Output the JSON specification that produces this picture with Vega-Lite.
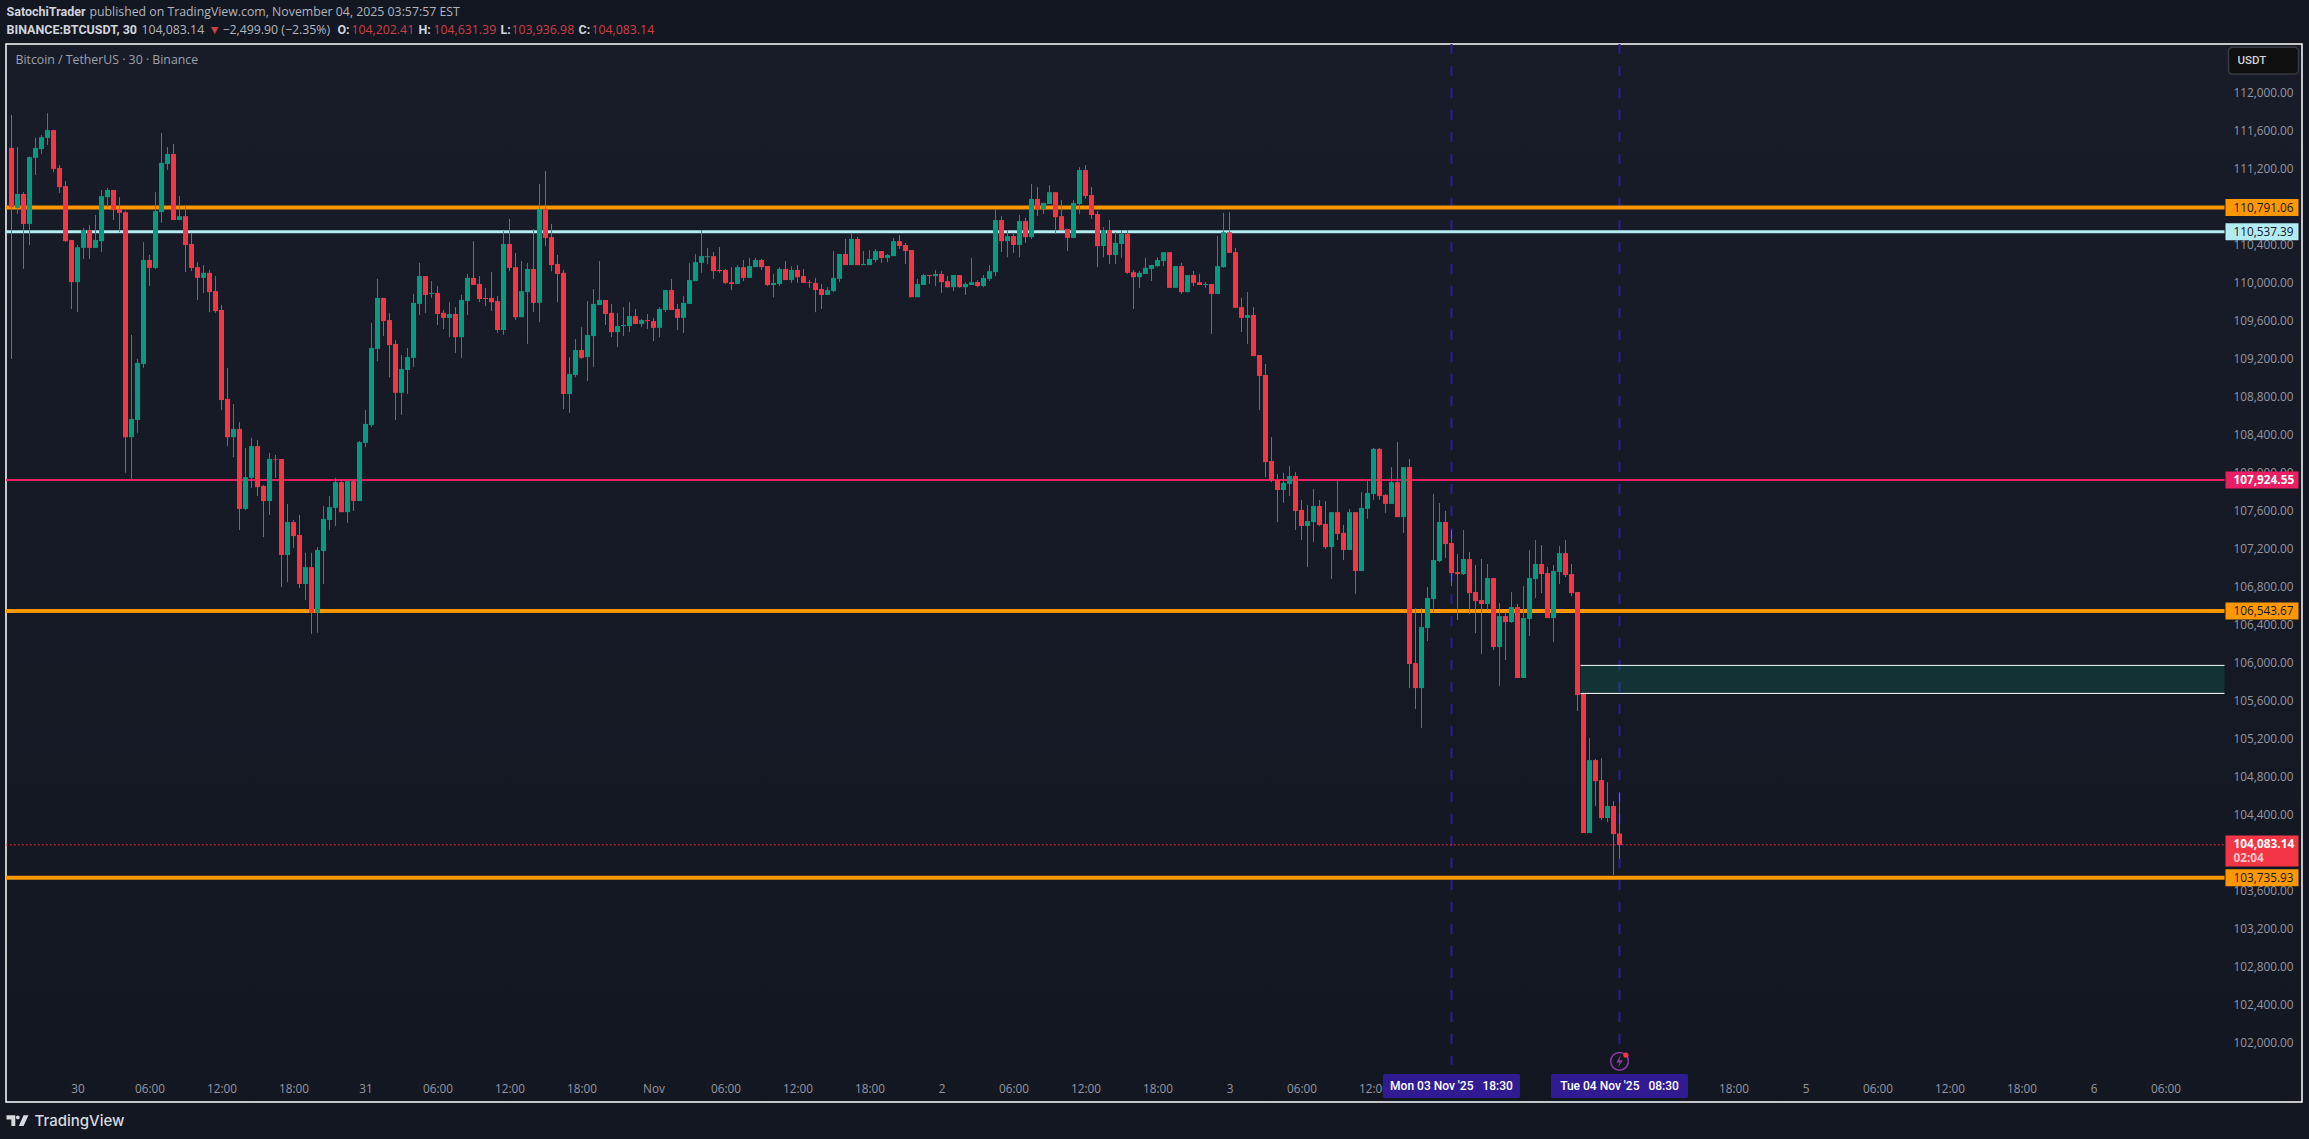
{
"$schema":"https://vega.github.io/schema/vega-lite/v6.json",
"width":2296,"height":1058,
"autosize":"none",
"padding":{"left":6,"top":44,"right":7,"bottom":37},
"background":"#131722",
"view":{"stroke":"#ffffff","strokeWidth":1.5,"fill":{"gradient":"linear","x1":0,"y1":0,"x2":0,"y2":1,"stops":[{"offset":0,"color":"#181c28"},{"offset":1,"color":"#131722"}]}},
"config":{"text":{"font":"Open Sans"},"axis":{"labelFont":"Open Sans"},"scale":{"continuousPadding":0}},
"resolve":{"scale":{"color":"independent"}},
"datasets":{
"candles":[
{"t":"2025-10-29T18:30Z","o":111419,"h":111765,"l":109198,"c":110795},
{"t":"2025-10-29T19:00Z","o":110788,"h":111427,"l":110724,"c":110934},
{"t":"2025-10-29T19:30Z","o":110934,"h":110953,"l":110145,"c":110619},
{"t":"2025-10-29T20:00Z","o":110619,"h":111329,"l":110397,"c":111322},
{"t":"2025-10-29T20:30Z","o":111314,"h":111525,"l":111134,"c":111419},
{"t":"2025-10-29T21:00Z","o":111408,"h":111555,"l":111355,"c":111532},
{"t":"2025-10-29T21:30Z","o":111525,"h":111784,"l":111449,"c":111607},
{"t":"2025-10-29T22:00Z","o":111607,"h":111607,"l":111164,"c":111198},
{"t":"2025-10-29T22:30Z","o":111209,"h":111239,"l":110946,"c":111006},
{"t":"2025-10-29T23:00Z","o":111017,"h":111070,"l":110427,"c":110438},
{"t":"2025-10-29T23:30Z","o":110449,"h":110449,"l":109724,"c":110006},
{"t":"2025-10-30T00:00Z","o":110006,"h":110397,"l":109690,"c":110374},
{"t":"2025-10-30T00:30Z","o":110367,"h":110577,"l":110250,"c":110555},
{"t":"2025-10-30T01:00Z","o":110555,"h":110607,"l":110250,"c":110367},
{"t":"2025-10-30T01:30Z","o":110367,"h":110713,"l":110367,"c":110449},
{"t":"2025-10-30T02:00Z","o":110438,"h":110976,"l":110322,"c":110912},
{"t":"2025-10-30T02:30Z","o":110901,"h":110998,"l":110795,"c":110976},
{"t":"2025-10-30T03:00Z","o":110976,"h":110976,"l":110660,"c":110765},
{"t":"2025-10-30T03:30Z","o":110776,"h":110901,"l":110532,"c":110735},
{"t":"2025-10-30T04:00Z","o":110743,"h":110758,"l":107999,"c":108374},
{"t":"2025-10-30T04:30Z","o":108374,"h":109450,"l":107931,"c":108566},
{"t":"2025-10-30T05:00Z","o":108555,"h":109198,"l":108420,"c":109156},
{"t":"2025-10-30T05:30Z","o":109145,"h":110427,"l":109104,"c":110239},
{"t":"2025-10-30T06:00Z","o":110239,"h":110292,"l":109965,"c":110156},
{"t":"2025-10-30T06:30Z","o":110156,"h":110953,"l":110145,"c":110754},
{"t":"2025-10-30T07:00Z","o":110743,"h":111577,"l":110630,"c":111261},
{"t":"2025-10-30T07:30Z","o":111250,"h":111427,"l":111186,"c":111355},
{"t":"2025-10-30T08:00Z","o":111355,"h":111461,"l":110660,"c":110660},
{"t":"2025-10-30T08:30Z","o":110660,"h":110912,"l":110660,"c":110701},
{"t":"2025-10-30T09:00Z","o":110701,"h":110807,"l":110111,"c":110397},
{"t":"2025-10-30T09:30Z","o":110408,"h":110525,"l":110122,"c":110156},
{"t":"2025-10-30T10:00Z","o":110164,"h":110216,"l":109818,"c":110051},
{"t":"2025-10-30T10:30Z","o":110051,"h":110186,"l":109893,"c":110104},
{"t":"2025-10-30T11:00Z","o":110104,"h":110134,"l":109690,"c":109901},
{"t":"2025-10-30T11:30Z","o":109912,"h":110070,"l":109683,"c":109701},
{"t":"2025-10-30T12:00Z","o":109713,"h":109765,"l":108660,"c":108765},
{"t":"2025-10-30T12:30Z","o":108777,"h":109104,"l":108280,"c":108374},
{"t":"2025-10-30T13:00Z","o":108374,"h":108724,"l":108164,"c":108461},
{"t":"2025-10-30T13:30Z","o":108461,"h":108532,"l":107397,"c":107619},
{"t":"2025-10-30T14:00Z","o":107619,"h":108262,"l":107608,"c":107953},
{"t":"2025-10-30T14:30Z","o":107946,"h":108367,"l":107841,"c":108280},
{"t":"2025-10-30T15:00Z","o":108280,"h":108344,"l":107754,"c":107848},
{"t":"2025-10-30T15:30Z","o":107860,"h":107871,"l":107322,"c":107702},
{"t":"2025-10-30T16:00Z","o":107702,"h":108209,"l":107555,"c":108145},
{"t":"2025-10-30T16:30Z","o":108145,"h":108187,"l":107946,"c":108138},
{"t":"2025-10-30T17:00Z","o":108145,"h":108145,"l":106796,"c":107134},
{"t":"2025-10-30T17:30Z","o":107134,"h":107672,"l":106848,"c":107480},
{"t":"2025-10-30T18:00Z","o":107480,"h":107502,"l":107209,"c":107333},
{"t":"2025-10-30T18:30Z","o":107345,"h":107555,"l":106788,"c":106829},
{"t":"2025-10-30T19:00Z","o":106829,"h":107157,"l":106660,"c":107006},
{"t":"2025-10-30T19:30Z","o":107006,"h":107157,"l":106303,"c":106525},
{"t":"2025-10-30T20:00Z","o":106525,"h":107217,"l":106315,"c":107187},
{"t":"2025-10-30T20:30Z","o":107175,"h":107649,"l":106829,"c":107514},
{"t":"2025-10-30T21:00Z","o":107502,"h":107754,"l":107397,"c":107638},
{"t":"2025-10-30T21:30Z","o":107630,"h":107946,"l":107439,"c":107901},
{"t":"2025-10-30T22:00Z","o":107901,"h":107923,"l":107585,"c":107585},
{"t":"2025-10-30T22:30Z","o":107585,"h":107912,"l":107472,"c":107912},
{"t":"2025-10-30T23:00Z","o":107912,"h":107931,"l":107596,"c":107702},
{"t":"2025-10-30T23:30Z","o":107702,"h":108333,"l":107702,"c":108322},
{"t":"2025-10-31T00:00Z","o":108314,"h":108660,"l":108269,"c":108514},
{"t":"2025-10-31T00:30Z","o":108502,"h":109577,"l":108480,"c":109314},
{"t":"2025-10-31T01:00Z","o":109303,"h":110040,"l":109175,"c":109840},
{"t":"2025-10-31T01:30Z","o":109840,"h":109840,"l":109438,"c":109596},
{"t":"2025-10-31T02:00Z","o":109607,"h":109683,"l":109006,"c":109344},
{"t":"2025-10-31T02:30Z","o":109356,"h":109397,"l":108555,"c":108841},
{"t":"2025-10-31T03:00Z","o":108841,"h":109239,"l":108608,"c":109092},
{"t":"2025-10-31T03:30Z","o":109081,"h":109314,"l":108829,"c":109217},
{"t":"2025-10-31T04:00Z","o":109209,"h":109882,"l":109111,"c":109788},
{"t":"2025-10-31T04:30Z","o":109777,"h":110209,"l":109660,"c":110070},
{"t":"2025-10-31T05:00Z","o":110070,"h":110070,"l":109683,"c":109871},
{"t":"2025-10-31T05:30Z","o":109882,"h":110017,"l":109840,"c":109893},
{"t":"2025-10-31T06:00Z","o":109893,"h":109965,"l":109555,"c":109671},
{"t":"2025-10-31T06:30Z","o":109683,"h":109713,"l":109513,"c":109630},
{"t":"2025-10-31T07:00Z","o":109630,"h":109795,"l":109427,"c":109671},
{"t":"2025-10-31T07:30Z","o":109671,"h":109743,"l":109262,"c":109427},
{"t":"2025-10-31T08:00Z","o":109427,"h":109871,"l":109209,"c":109818},
{"t":"2025-10-31T08:30Z","o":109807,"h":110092,"l":109660,"c":110051},
{"t":"2025-10-31T09:00Z","o":110051,"h":110438,"l":109976,"c":109976},
{"t":"2025-10-31T09:30Z","o":109987,"h":110070,"l":109795,"c":109829},
{"t":"2025-10-31T10:00Z","o":109840,"h":109946,"l":109754,"c":109829},
{"t":"2025-10-31T10:30Z","o":109840,"h":110111,"l":109701,"c":109795},
{"t":"2025-10-31T11:00Z","o":109807,"h":109859,"l":109472,"c":109502},
{"t":"2025-10-31T11:30Z","o":109502,"h":110543,"l":109450,"c":110408},
{"t":"2025-10-31T12:00Z","o":110408,"h":110671,"l":110122,"c":110156},
{"t":"2025-10-31T12:30Z","o":110164,"h":110314,"l":109607,"c":109637},
{"t":"2025-10-31T13:00Z","o":109637,"h":110228,"l":109637,"c":109912},
{"t":"2025-10-31T13:30Z","o":109901,"h":110209,"l":109356,"c":110145},
{"t":"2025-10-31T14:00Z","o":110145,"h":110566,"l":109690,"c":109788},
{"t":"2025-10-31T14:30Z","o":109788,"h":111040,"l":109585,"c":110776},
{"t":"2025-10-31T15:00Z","o":110776,"h":111175,"l":110386,"c":110472},
{"t":"2025-10-31T15:30Z","o":110480,"h":110619,"l":110122,"c":110186},
{"t":"2025-10-31T16:00Z","o":110198,"h":110292,"l":109795,"c":110092},
{"t":"2025-10-31T16:30Z","o":110104,"h":110134,"l":108671,"c":108829},
{"t":"2025-10-31T17:00Z","o":108829,"h":109217,"l":108630,"c":109040},
{"t":"2025-10-31T17:30Z","o":109029,"h":109408,"l":109006,"c":109292},
{"t":"2025-10-31T18:00Z","o":109292,"h":109532,"l":109198,"c":109209},
{"t":"2025-10-31T18:30Z","o":109217,"h":109807,"l":108965,"c":109450},
{"t":"2025-10-31T19:00Z","o":109438,"h":109934,"l":109111,"c":109777},
{"t":"2025-10-31T19:30Z","o":109765,"h":110228,"l":109765,"c":109818},
{"t":"2025-10-31T20:00Z","o":109818,"h":109818,"l":109555,"c":109671},
{"t":"2025-10-31T20:30Z","o":109683,"h":109777,"l":109427,"c":109480},
{"t":"2025-10-31T21:00Z","o":109480,"h":109683,"l":109322,"c":109544},
{"t":"2025-10-31T21:30Z","o":109544,"h":109743,"l":109438,"c":109555},
{"t":"2025-10-31T22:00Z","o":109544,"h":109795,"l":109480,"c":109649},
{"t":"2025-10-31T22:30Z","o":109649,"h":109724,"l":109566,"c":109566},
{"t":"2025-10-31T23:00Z","o":109566,"h":109619,"l":109532,"c":109607},
{"t":"2025-10-31T23:30Z","o":109607,"h":109671,"l":109513,"c":109596},
{"t":"2025-11-01T00:00Z","o":109596,"h":109630,"l":109386,"c":109525},
{"t":"2025-11-01T00:30Z","o":109525,"h":109743,"l":109427,"c":109724},
{"t":"2025-11-01T01:00Z","o":109713,"h":109923,"l":109690,"c":109923},
{"t":"2025-11-01T01:30Z","o":109923,"h":110040,"l":109713,"c":109713},
{"t":"2025-11-01T02:00Z","o":109724,"h":109777,"l":109502,"c":109630},
{"t":"2025-11-01T02:30Z","o":109630,"h":109859,"l":109472,"c":109788},
{"t":"2025-11-01T03:00Z","o":109777,"h":110209,"l":109777,"c":110028},
{"t":"2025-11-01T03:30Z","o":110017,"h":110303,"l":110017,"c":110216},
{"t":"2025-11-01T04:00Z","o":110209,"h":110555,"l":110104,"c":110280},
{"t":"2025-11-01T04:30Z","o":110269,"h":110367,"l":110198,"c":110280},
{"t":"2025-11-01T05:00Z","o":110280,"h":110322,"l":110040,"c":110122},
{"t":"2025-11-01T05:30Z","o":110134,"h":110374,"l":110104,"c":110122},
{"t":"2025-11-01T06:00Z","o":110134,"h":110145,"l":109987,"c":109998},
{"t":"2025-11-01T06:30Z","o":110006,"h":110164,"l":109923,"c":109987},
{"t":"2025-11-01T07:00Z","o":109987,"h":110186,"l":109987,"c":110164},
{"t":"2025-11-01T07:30Z","o":110164,"h":110239,"l":110017,"c":110051},
{"t":"2025-11-01T08:00Z","o":110051,"h":110261,"l":110051,"c":110175},
{"t":"2025-11-01T08:30Z","o":110164,"h":110261,"l":110164,"c":110239},
{"t":"2025-11-01T09:00Z","o":110239,"h":110250,"l":110134,"c":110164},
{"t":"2025-11-01T09:30Z","o":110175,"h":110175,"l":109965,"c":109976},
{"t":"2025-11-01T10:00Z","o":109976,"h":110092,"l":109848,"c":109998},
{"t":"2025-11-01T10:30Z","o":109987,"h":110164,"l":109965,"c":110145},
{"t":"2025-11-01T11:00Z","o":110145,"h":110228,"l":110028,"c":110028},
{"t":"2025-11-01T11:30Z","o":110028,"h":110175,"l":109998,"c":110134},
{"t":"2025-11-01T12:00Z","o":110134,"h":110186,"l":109998,"c":110058},
{"t":"2025-11-01T12:30Z","o":110070,"h":110145,"l":109998,"c":109998},
{"t":"2025-11-01T13:00Z","o":110006,"h":110028,"l":109946,"c":109998},
{"t":"2025-11-01T13:30Z","o":109998,"h":110051,"l":109690,"c":109923},
{"t":"2025-11-01T14:00Z","o":109934,"h":109987,"l":109724,"c":109871},
{"t":"2025-11-01T14:30Z","o":109871,"h":109953,"l":109871,"c":109923},
{"t":"2025-11-01T15:00Z","o":109912,"h":110333,"l":109901,"c":110051},
{"t":"2025-11-01T15:30Z","o":110040,"h":110303,"l":110006,"c":110303},
{"t":"2025-11-01T16:00Z","o":110303,"h":110461,"l":110186,"c":110186},
{"t":"2025-11-01T16:30Z","o":110186,"h":110525,"l":110186,"c":110461},
{"t":"2025-11-01T17:00Z","o":110461,"h":110480,"l":110186,"c":110186},
{"t":"2025-11-01T17:30Z","o":110186,"h":110333,"l":110186,"c":110198},
{"t":"2025-11-01T18:00Z","o":110186,"h":110344,"l":110186,"c":110250},
{"t":"2025-11-01T18:30Z","o":110239,"h":110355,"l":110216,"c":110333},
{"t":"2025-11-01T19:00Z","o":110333,"h":110333,"l":110209,"c":110261},
{"t":"2025-11-01T19:30Z","o":110261,"h":110303,"l":110216,"c":110292},
{"t":"2025-11-01T20:00Z","o":110280,"h":110472,"l":110280,"c":110438},
{"t":"2025-11-01T20:30Z","o":110438,"h":110502,"l":110355,"c":110386},
{"t":"2025-11-01T21:00Z","o":110397,"h":110419,"l":110198,"c":110333},
{"t":"2025-11-01T21:30Z","o":110344,"h":110344,"l":109848,"c":109848},
{"t":"2025-11-01T22:00Z","o":109848,"h":110040,"l":109848,"c":109987},
{"t":"2025-11-01T22:30Z","o":109976,"h":110092,"l":109976,"c":110081},
{"t":"2025-11-01T23:00Z","o":110081,"h":110081,"l":109987,"c":110070},
{"t":"2025-11-01T23:30Z","o":110070,"h":110134,"l":109965,"c":110092},
{"t":"2025-11-02T00:00Z","o":110092,"h":110122,"l":109893,"c":110006},
{"t":"2025-11-02T00:30Z","o":110017,"h":110070,"l":109946,"c":109953},
{"t":"2025-11-02T01:00Z","o":109953,"h":110081,"l":109912,"c":110081},
{"t":"2025-11-02T01:30Z","o":110081,"h":110081,"l":109946,"c":109953},
{"t":"2025-11-02T02:00Z","o":109953,"h":110006,"l":109871,"c":109987},
{"t":"2025-11-02T02:30Z","o":109976,"h":110261,"l":109976,"c":110006},
{"t":"2025-11-02T03:00Z","o":110006,"h":110028,"l":109953,"c":109965},
{"t":"2025-11-02T03:30Z","o":109965,"h":110081,"l":109953,"c":110051},
{"t":"2025-11-02T04:00Z","o":110040,"h":110186,"l":110017,"c":110122},
{"t":"2025-11-02T04:30Z","o":110111,"h":110776,"l":110070,"c":110660},
{"t":"2025-11-02T05:00Z","o":110660,"h":110701,"l":110322,"c":110438},
{"t":"2025-11-02T05:30Z","o":110438,"h":110555,"l":110269,"c":110491},
{"t":"2025-11-02T06:00Z","o":110491,"h":110513,"l":110314,"c":110397},
{"t":"2025-11-02T06:30Z","o":110397,"h":110713,"l":110269,"c":110649},
{"t":"2025-11-02T07:00Z","o":110649,"h":110683,"l":110419,"c":110480},
{"t":"2025-11-02T07:30Z","o":110480,"h":111040,"l":110461,"c":110882},
{"t":"2025-11-02T08:00Z","o":110882,"h":111006,"l":110701,"c":110776},
{"t":"2025-11-02T08:30Z","o":110776,"h":110840,"l":110724,"c":110840},
{"t":"2025-11-02T09:00Z","o":110829,"h":111028,"l":110829,"c":110953},
{"t":"2025-11-02T09:30Z","o":110953,"h":110953,"l":110513,"c":110690},
{"t":"2025-11-02T10:00Z","o":110701,"h":110870,"l":110555,"c":110555},
{"t":"2025-11-02T10:30Z","o":110566,"h":110566,"l":110333,"c":110472},
{"t":"2025-11-02T11:00Z","o":110472,"h":110870,"l":110472,"c":110840},
{"t":"2025-11-02T11:30Z","o":110829,"h":111216,"l":110724,"c":111186},
{"t":"2025-11-02T12:00Z","o":111186,"h":111239,"l":110882,"c":110912},
{"t":"2025-11-02T12:30Z","o":110923,"h":111006,"l":110671,"c":110713},
{"t":"2025-11-02T13:00Z","o":110724,"h":110754,"l":110164,"c":110386},
{"t":"2025-11-02T13:30Z","o":110386,"h":110585,"l":110269,"c":110555},
{"t":"2025-11-02T14:00Z","o":110555,"h":110660,"l":110198,"c":110292},
{"t":"2025-11-02T14:30Z","o":110292,"h":110532,"l":110198,"c":110420},
{"t":"2025-11-02T15:00Z","o":110408,"h":110555,"l":110262,"c":110514},
{"t":"2025-11-02T15:30Z","o":110514,"h":110555,"l":110093,"c":110104},
{"t":"2025-11-02T16:00Z","o":110111,"h":110134,"l":109724,"c":110059},
{"t":"2025-11-02T16:30Z","o":110059,"h":110123,"l":109946,"c":110104},
{"t":"2025-11-02T17:00Z","o":110093,"h":110262,"l":110093,"c":110157},
{"t":"2025-11-02T17:30Z","o":110145,"h":110187,"l":110017,"c":110187},
{"t":"2025-11-02T18:00Z","o":110175,"h":110269,"l":110164,"c":110239},
{"t":"2025-11-02T18:30Z","o":110228,"h":110322,"l":110175,"c":110322},
{"t":"2025-11-02T19:00Z","o":110322,"h":110322,"l":109946,"c":109946},
{"t":"2025-11-02T19:30Z","o":109946,"h":110175,"l":109946,"c":110175},
{"t":"2025-11-02T20:00Z","o":110175,"h":110209,"l":109882,"c":109901},
{"t":"2025-11-02T20:30Z","o":109901,"h":110081,"l":109901,"c":110081},
{"t":"2025-11-02T21:00Z","o":110081,"h":110123,"l":109965,"c":109999},
{"t":"2025-11-02T21:30Z","o":110006,"h":110093,"l":109976,"c":109976},
{"t":"2025-11-02T22:00Z","o":109976,"h":110006,"l":109946,"c":109987},
{"t":"2025-11-02T22:30Z","o":109987,"h":109987,"l":109461,"c":109882},
{"t":"2025-11-02T23:00Z","o":109882,"h":110491,"l":109882,"c":110175},
{"t":"2025-11-02T23:30Z","o":110164,"h":110735,"l":110157,"c":110532},
{"t":"2025-11-03T00:00Z","o":110532,"h":110743,"l":110314,"c":110314},
{"t":"2025-11-03T00:30Z","o":110322,"h":110367,"l":109735,"c":109735},
{"t":"2025-11-03T01:00Z","o":109743,"h":109841,"l":109480,"c":109630},
{"t":"2025-11-03T01:30Z","o":109630,"h":109901,"l":109356,"c":109660},
{"t":"2025-11-03T02:00Z","o":109660,"h":109743,"l":109228,"c":109228},
{"t":"2025-11-03T02:30Z","o":109239,"h":109239,"l":108660,"c":109018},
{"t":"2025-11-03T03:00Z","o":109029,"h":109145,"l":107954,"c":108112},
{"t":"2025-11-03T03:30Z","o":108123,"h":108375,"l":107901,"c":107924},
{"t":"2025-11-03T04:00Z","o":107924,"h":107988,"l":107480,"c":107818},
{"t":"2025-11-03T04:30Z","o":107818,"h":107999,"l":107683,"c":107894},
{"t":"2025-11-03T05:00Z","o":107882,"h":108070,"l":107754,"c":107965},
{"t":"2025-11-03T05:30Z","o":107965,"h":108006,"l":107397,"c":107597},
{"t":"2025-11-03T06:00Z","o":107608,"h":107713,"l":107292,"c":107439},
{"t":"2025-11-03T06:30Z","o":107439,"h":107661,"l":107006,"c":107491},
{"t":"2025-11-03T07:00Z","o":107480,"h":107830,"l":107270,"c":107649},
{"t":"2025-11-03T07:30Z","o":107649,"h":107713,"l":107439,"c":107450},
{"t":"2025-11-03T08:00Z","o":107461,"h":107702,"l":107198,"c":107217},
{"t":"2025-11-03T08:30Z","o":107217,"h":107585,"l":106882,"c":107585},
{"t":"2025-11-03T09:00Z","o":107585,"h":107924,"l":107292,"c":107356},
{"t":"2025-11-03T09:30Z","o":107367,"h":107450,"l":107082,"c":107187},
{"t":"2025-11-03T10:00Z","o":107187,"h":107619,"l":107187,"c":107585},
{"t":"2025-11-03T10:30Z","o":107585,"h":107585,"l":106725,"c":106965},
{"t":"2025-11-03T11:00Z","o":106965,"h":107796,"l":106965,"c":107630},
{"t":"2025-11-03T11:30Z","o":107619,"h":107912,"l":107514,"c":107788},
{"t":"2025-11-03T12:00Z","o":107777,"h":108262,"l":107713,"c":108251},
{"t":"2025-11-03T12:30Z","o":108251,"h":108262,"l":107713,"c":107754},
{"t":"2025-11-03T13:00Z","o":107766,"h":107777,"l":107578,"c":107672},
{"t":"2025-11-03T13:30Z","o":107672,"h":108059,"l":107672,"c":107901},
{"t":"2025-11-03T14:00Z","o":107901,"h":108322,"l":107533,"c":107533},
{"t":"2025-11-03T14:30Z","o":107533,"h":108059,"l":107367,"c":108059},
{"t":"2025-11-03T15:00Z","o":108060,"h":108144,"l":105733,"c":105986},
{"t":"2025-11-03T15:30Z","o":105996,"h":106572,"l":105512,"c":105733},
{"t":"2025-11-03T16:00Z","o":105733,"h":106575,"l":105312,"c":106375},
{"t":"2025-11-03T16:30Z","o":106365,"h":106797,"l":106228,"c":106681},
{"t":"2025-11-03T17:00Z","o":106670,"h":107776,"l":106533,"c":107081},
{"t":"2025-11-03T17:30Z","o":107070,"h":107681,"l":107060,"c":107481},
{"t":"2025-11-03T18:00Z","o":107481,"h":107597,"l":107102,"c":107249},
{"t":"2025-11-03T18:30Z","o":107260,"h":107397,"l":106807,"c":106944},
{"t":"2025-11-03T19:00Z","o":106954,"h":107144,"l":106449,"c":106933},
{"t":"2025-11-03T19:30Z","o":106933,"h":107397,"l":106923,"c":107091},
{"t":"2025-11-03T20:00Z","o":107091,"h":107165,"l":106512,"c":106733},
{"t":"2025-11-03T20:30Z","o":106744,"h":107028,"l":106312,"c":106649},
{"t":"2025-11-03T21:00Z","o":106660,"h":107091,"l":106091,"c":106618},
{"t":"2025-11-03T21:30Z","o":106618,"h":107039,"l":106554,"c":106891},
{"t":"2025-11-03T22:00Z","o":106891,"h":106891,"l":106133,"c":106165},
{"t":"2025-11-03T22:30Z","o":106165,"h":106628,"l":105754,"c":106491},
{"t":"2025-11-03T23:00Z","o":106491,"h":106533,"l":106028,"c":106428},
{"t":"2025-11-03T23:30Z","o":106428,"h":106744,"l":106418,"c":106586},
{"t":"2025-11-04T00:00Z","o":106586,"h":106618,"l":105839,"c":105839},
{"t":"2025-11-04T00:30Z","o":105839,"h":106807,"l":105839,"c":106470},
{"t":"2025-11-04T01:00Z","o":106460,"h":107186,"l":106281,"c":106891},
{"t":"2025-11-04T01:30Z","o":106881,"h":107291,"l":106681,"c":107039},
{"t":"2025-11-04T02:00Z","o":107039,"h":107239,"l":106733,"c":106933},
{"t":"2025-11-04T02:30Z","o":106944,"h":107007,"l":106470,"c":106470},
{"t":"2025-11-04T03:00Z","o":106470,"h":107028,"l":106218,"c":106965},
{"t":"2025-11-04T03:30Z","o":106954,"h":107228,"l":106828,"c":107154},
{"t":"2025-11-04T04:00Z","o":107154,"h":107291,"l":106902,"c":106923},
{"t":"2025-11-04T04:30Z","o":106933,"h":107039,"l":106702,"c":106733},
{"t":"2025-11-04T05:00Z","o":106744,"h":106744,"l":105491,"c":105660},
{"t":"2025-11-04T05:30Z","o":105670,"h":105670,"l":104207,"c":104207},
{"t":"2025-11-04T06:00Z","o":104207,"h":105207,"l":104207,"c":104975},
{"t":"2025-11-04T06:30Z","o":104975,"h":104986,"l":104491,"c":104754},
{"t":"2025-11-04T07:00Z","o":104765,"h":104996,"l":104344,"c":104365},
{"t":"2025-11-04T07:30Z","o":104365,"h":104744,"l":104323,"c":104491},
{"t":"2025-11-04T08:00Z","o":104491,"h":104544,"l":103765,"c":104196},
{"t":"2025-11-04T08:30Z","o":104202.41,"h":104631.39,"l":103936.98,"c":104083.14}
],
"tags":[
{"t":"2025-11-06T11:00Z","end":"2025-11-06T17:05Z","price":110791.06,"label":"110,791.06","kind":"resistance"},
{"t":"2025-11-06T11:00Z","end":"2025-11-06T17:05Z","price":110537.39,"label":"110,537.39","kind":"mint"},
{"t":"2025-11-06T11:00Z","end":"2025-11-06T17:05Z","price":107924.55,"label":"107,924.55","kind":"pink"},
{"t":"2025-11-06T11:00Z","end":"2025-11-06T17:05Z","price":106543.67,"label":"106,543.67","kind":"resistance"},
{"t":"2025-11-06T11:00Z","end":"2025-11-06T17:05Z","price":103735.93,"label":"103,735.93","kind":"resistance"}
],
"cursors":[
{"t":"2025-11-03T18:30Z","label":"Mon 03 Nov '25\u00a0\u00a0\u00a018:30","price":101544},
{"t":"2025-11-04T08:30Z","label":"Tue 04 Nov '25\u00a0\u00a0\u00a008:30","price":101544}
]
},
"encoding":{
"x":{"field":"t","type":"temporal","title":null,
"scale":{"type":"utc","padding":0,"domain":[{"year":2025,"month":10,"date":29,"hours":18,"minutes":2,"seconds":30,"utc":true},{"year":2025,"month":11,"date":6,"hours":17,"minutes":22,"seconds":30,"utc":true}]},
"axis":{"orient":"bottom","offset":-14,"domain":false,"ticks":false,"grid":false,"labelPadding":0,"labelBaseline":"middle","labelAlign":"center","labelColor":"#9598a1","labelFontSize":11.8,"labelOverlap":false,"labelBound":false,"labelFlush":false,
"values":[
{"year":2025,"month":10,"date":30,"hours":0,"utc":true},{"year":2025,"month":10,"date":30,"hours":6,"utc":true},{"year":2025,"month":10,"date":30,"hours":12,"utc":true},{"year":2025,"month":10,"date":30,"hours":18,"utc":true},
{"year":2025,"month":10,"date":31,"hours":0,"utc":true},{"year":2025,"month":10,"date":31,"hours":6,"utc":true},{"year":2025,"month":10,"date":31,"hours":12,"utc":true},{"year":2025,"month":10,"date":31,"hours":18,"utc":true},
{"year":2025,"month":11,"date":1,"hours":0,"utc":true},{"year":2025,"month":11,"date":1,"hours":6,"utc":true},{"year":2025,"month":11,"date":1,"hours":12,"utc":true},{"year":2025,"month":11,"date":1,"hours":18,"utc":true},
{"year":2025,"month":11,"date":2,"hours":0,"utc":true},{"year":2025,"month":11,"date":2,"hours":6,"utc":true},{"year":2025,"month":11,"date":2,"hours":12,"utc":true},{"year":2025,"month":11,"date":2,"hours":18,"utc":true},
{"year":2025,"month":11,"date":3,"hours":0,"utc":true},{"year":2025,"month":11,"date":3,"hours":6,"utc":true},{"year":2025,"month":11,"date":3,"hours":12,"utc":true},
{"year":2025,"month":11,"date":4,"hours":18,"utc":true},
{"year":2025,"month":11,"date":5,"hours":0,"utc":true},{"year":2025,"month":11,"date":5,"hours":6,"utc":true},{"year":2025,"month":11,"date":5,"hours":12,"utc":true},{"year":2025,"month":11,"date":5,"hours":18,"utc":true},
{"year":2025,"month":11,"date":6,"hours":0,"utc":true},{"year":2025,"month":11,"date":6,"hours":6,"utc":true}],
"labelExpr":"utchours(datum.value)>0?utcFormat(datum.value,'%H:%M'):utcdate(datum.value)==1?'Nov':''+utcdate(datum.value)"}},
"y":{"field":"price","type":"quantitative","title":null,
"scale":{"domain":[101376,112513],"nice":false,"zero":false},
"axis":{"orient":"right","offset":-69,"domain":false,"ticks":false,"grid":false,"labelPadding":0,"labelAlign":"left","labelBaseline":"middle","labelColor":"#9598a1","labelFontSize":11.8,"labelOverlap":false,"labelBound":false,"format":",.2f",
"values":[102000,102400,102800,103200,103600,104000,104400,104800,105200,105600,106000,106400,106800,107200,107600,108000,108400,108800,109200,109600,110000,110400,110800,111200,111600,112000]}}
},
"layer":[
{"data":{"values":[
{"t":"2025-11-03T18:30Z","top":112513,"bottom":101765},
{"t":"2025-11-04T08:30Z","top":112513,"bottom":101765}]},
"mark":{"type":"rule","color":"#311b92","strokeWidth":2,"strokeDash":[10,12]},
"encoding":{"y":{"field":"top","type":"quantitative","title":null,"scale":{"domain":[101376,112513],"nice":false,"zero":false}},"y2":{"field":"bottom"}}},
{"data":{"values":[{"t":"2025-11-04T05:15Z","end":"2025-11-06T10:55Z","top":105972,"bottom":105677}],"format":{"parse":{"end":"date"}}},
"mark":{"type":"rect","color":"#089981","opacity":0.2},
"encoding":{"x2":{"field":"end"},"y":{"field":"top","type":"quantitative","title":null,"scale":{"domain":[101376,112513],"nice":false,"zero":false}},"y2":{"field":"bottom"}}},
{"data":{"values":[
{"t":"2025-11-04T05:15Z","end":"2025-11-06T10:55Z","price":105972},
{"t":"2025-11-04T05:15Z","end":"2025-11-06T10:55Z","price":105677}],"format":{"parse":{"end":"date"}}},
"mark":{"type":"rule","color":"#ffffff","strokeWidth":1},
"encoding":{"x2":{"field":"end"}}},
{"data":{"values":[{"t":"2025-10-29T18:02:30Z","end":"2025-11-06T10:55Z","price":104083.14}],"format":{"parse":{"end":"date"}}},
"mark":{"type":"rule","color":"#f23645","strokeWidth":1,"strokeDash":[1.5,2.5]},
"encoding":{"x2":{"field":"end"}}},
{"data":{"values":[
{"t":"2025-10-29T18:02:30Z","end":"2025-11-06T10:55Z","price":110791.06,"kind":"resistance"},
{"t":"2025-10-29T18:02:30Z","end":"2025-11-06T10:55Z","price":110537.39,"kind":"mint"},
{"t":"2025-10-29T18:02:30Z","end":"2025-11-06T10:55Z","price":107924.55,"kind":"pink"},
{"t":"2025-10-29T18:02:30Z","end":"2025-11-06T10:55Z","price":106543.67,"kind":"resistance"},
{"t":"2025-10-29T18:02:30Z","end":"2025-11-06T10:55Z","price":103735.93,"kind":"resistance"}],"format":{"parse":{"end":"date"}}},
"mark":{"type":"rule"},
"encoding":{"x2":{"field":"end"},
"color":{"field":"kind","type":"nominal","legend":null,"scale":{"domain":["resistance","mint","pink"],"range":["#ff9800","#b2ebf2","#e91e63"]}},
"strokeWidth":{"field":"kind","type":"nominal","legend":null,"scale":{"domain":["resistance","mint","pink"],"range":[4,2,2]}}}},
{"data":{"name":"candles"},
"mark":{"type":"rule","strokeWidth":1},
"encoding":{"y":{"field":"h","type":"quantitative","title":null,"scale":{"domain":[101376,112513],"nice":false,"zero":false}},"y2":{"field":"l"},
"color":{"condition":{"test":"datum.c>=datum.o","value":"#089981"},"value":"#f23645"}}},
{"data":{"name":"candles"},
"mark":{"type":"bar","size":5},
"encoding":{"y":{"field":"o","type":"quantitative","title":null,"scale":{"domain":[101376,112513],"nice":false,"zero":false}},"y2":{"field":"c"},
"color":{"condition":{"test":"datum.c>=datum.o","value":"#089981"},"value":"#f23645"}}},
{"data":{"name":"tags","format":{"parse":{"end":"date"}}},
"mark":{"type":"bar","orient":"horizontal","size":17},
"encoding":{"x2":{"field":"end"},
"color":{"field":"kind","type":"nominal","legend":null,"scale":{"domain":["resistance","mint","pink"],"range":["#ff9800","#b2ebf2","#e91e63"]}}}},
{"data":{"values":[{"t":"2025-11-06T11:00Z","end":"2025-11-06T17:05Z","price":104018}],"format":{"parse":{"end":"date"}}},
"mark":{"type":"bar","orient":"horizontal","size":31,"color":"#f23645"},
"encoding":{"x2":{"field":"end"}}},
{"data":{"name":"tags"},"transform":[{"filter":"datum.kind!='pink'"}],
"mark":{"type":"text","fontSize":11.8,"align":"left","baseline":"middle","dx":8,"color":"#131722"},
"encoding":{"text":{"field":"label"}}},
{"data":{"name":"tags"},"transform":[{"filter":"datum.kind=='pink'"}],
"mark":{"type":"text","fontSize":11.8,"fontWeight":"bold","align":"left","baseline":"middle","dx":8,"color":"#ffffff"},
"encoding":{"text":{"field":"label"}}},
{"data":{"values":[{"t":"2025-11-06T11:00Z","price":104090,"label":"104,083.14"}]},
"mark":{"type":"text","fontSize":11.8,"fontWeight":"bold","align":"left","baseline":"middle","dx":8,"color":"#ffffff"},
"encoding":{"text":{"field":"label"}}},
{"data":{"values":[{"t":"2025-11-06T11:00Z","price":103944,"label":"02:04"}]},
"mark":{"type":"text","fontSize":11.8,"fontWeight":"bold","align":"left","baseline":"middle","dx":8,"color":"#fbc4c8"},
"encoding":{"text":{"field":"label"}}},
{"data":{"values":[{"t":"2025-11-06T11:15Z","end":"2025-11-06T17:05Z","top":112478,"bottom":112197}],"format":{"parse":{"end":"date"}}},
"mark":{"type":"rect","fill":"#0f0f0f","stroke":"#363a45","strokeWidth":1.5,"cornerRadius":4},
"encoding":{"x2":{"field":"end"},"y":{"field":"top","type":"quantitative","title":null,"scale":{"domain":[101376,112513],"nice":false,"zero":false}},"y2":{"field":"bottom"}}},
{"data":{"values":[{"t":"2025-11-06T12:00Z","price":112337,"label":"USDT"}]},
"mark":{"type":"text","font":"Roboto","fontSize":11.5,"fontWeight":500,"align":"left","baseline":"middle","color":"#d1d4dc"},
"encoding":{"text":{"field":"label"}}},
{"data":{"name":"cursors"},
"mark":{"type":"rect","width":137,"height":24,"color":"#311b92","cornerRadius":2},"encoding":{}},
{"data":{"name":"cursors"},
"mark":{"type":"text","font":"Roboto","fontSize":12,"fontWeight":500,"align":"center","baseline":"middle","color":"#ffffff"},
"encoding":{"text":{"field":"label"}}},
{"data":{"values":[{"t":"2025-11-04T08:30Z","price":101804}]},
"mark":{"type":"point","shape":"circle","size":314,"filled":true,"fill":"#131722","stroke":"#8e3aa6","strokeWidth":1.5,"opacity":1},"encoding":{}},
{"data":{"values":[{"t":"2025-11-04T08:30Z","price":101804}]},
"mark":{"type":"point","shape":"M0.15,-0.75 L-0.4,0.15 H0 L-0.15,0.75 L0.4,-0.15 H0 Z","size":256,"filled":true,"color":"#8e3aa6","opacity":1},"encoding":{}},
{"data":{"values":[{"t":"2025-11-04T09:02Z","price":101870}]},
"mark":{"type":"point","shape":"circle","size":28,"filled":true,"color":"#f23645","opacity":1},"encoding":{}},
{"data":{"values":[
{"t":"2025-10-29T18:05Z","price":112846,"label":"SatochiTrader"},
{"t":"2025-10-29T18:05Z","price":112660,"label":"BINANCE:BTCUSDT, 30"},
{"t":"2025-10-30T21:40Z","price":112660,"label":"O:"},
{"t":"2025-10-31T04:25Z","price":112660,"label":"H:"},
{"t":"2025-10-31T11:15Z","price":112660,"label":"L:"},
{"t":"2025-10-31T17:45Z","price":112660,"label":"C:"}]},
"mark":{"type":"text","font":"Roboto","fontSize":12.5,"fontWeight":"bold","align":"left","baseline":"middle","color":"#d1d4dc"},
"encoding":{"text":{"field":"label"}}},
{"data":{"values":[
{"t":"2025-10-30T01:00Z","price":112846,"label":"published on TradingView.com, November 04, 2025 03:57:57 EST","kind":"plain"},
{"t":"2025-10-30T05:20Z","price":112660,"label":"104,083.14","kind":"plain"},
{"t":"2025-10-30T10:55Z","price":112660,"label":"▼","kind":"down"},
{"t":"2025-10-30T12:05Z","price":112660,"label":"−2,499.90 (−2.35%)","kind":"plain"},
{"t":"2025-10-30T22:50Z","price":112660,"label":"104,202.41","kind":"down"},
{"t":"2025-10-31T05:40Z","price":112660,"label":"104,631.39","kind":"down"},
{"t":"2025-10-31T12:10Z","price":112660,"label":"103,936.98","kind":"down"},
{"t":"2025-10-31T18:50Z","price":112660,"label":"104,083.14","kind":"down"},
{"t":"2025-10-29T18:50Z","price":112344,"label":"Bitcoin / TetherUS · 30 · Binance","kind":"pane"}]},
"mark":{"type":"text","fontSize":12.3,"align":"left","baseline":"middle"},
"encoding":{"text":{"field":"label"},
"color":{"field":"kind","type":"nominal","legend":null,"scale":{"domain":["plain","down","pane"],"range":["#b2b5be","#cf3f47","#9ea1aa"]}}}},
{"data":{"values":[{"t":"2025-10-29T19:00Z","price":101179}]},
"mark":{"type":"point","shape":"M-1,-0.49 H-0.2 V0.49 H-0.56 V-0.1 H-1 Z M-0.14,-0.3 A0.17,0.17 0 1 0 0.2,-0.3 A0.17,0.17 0 1 0 -0.14,-0.3 Z M0.55,-0.49 H1 L0.55,0.49 H0.12 Z","size":484,"filled":true,"color":"#d8dae0","opacity":1},"encoding":{}},
{"data":{"values":[{"t":"2025-10-29T20:25Z","price":101179,"label":"TradingView"}]},
"mark":{"type":"text","font":"Inter","fontSize":15,"fontWeight":500,"align":"left","baseline":"middle","color":"#d8dae0"},
"encoding":{"text":{"field":"label"}}}
]
}
